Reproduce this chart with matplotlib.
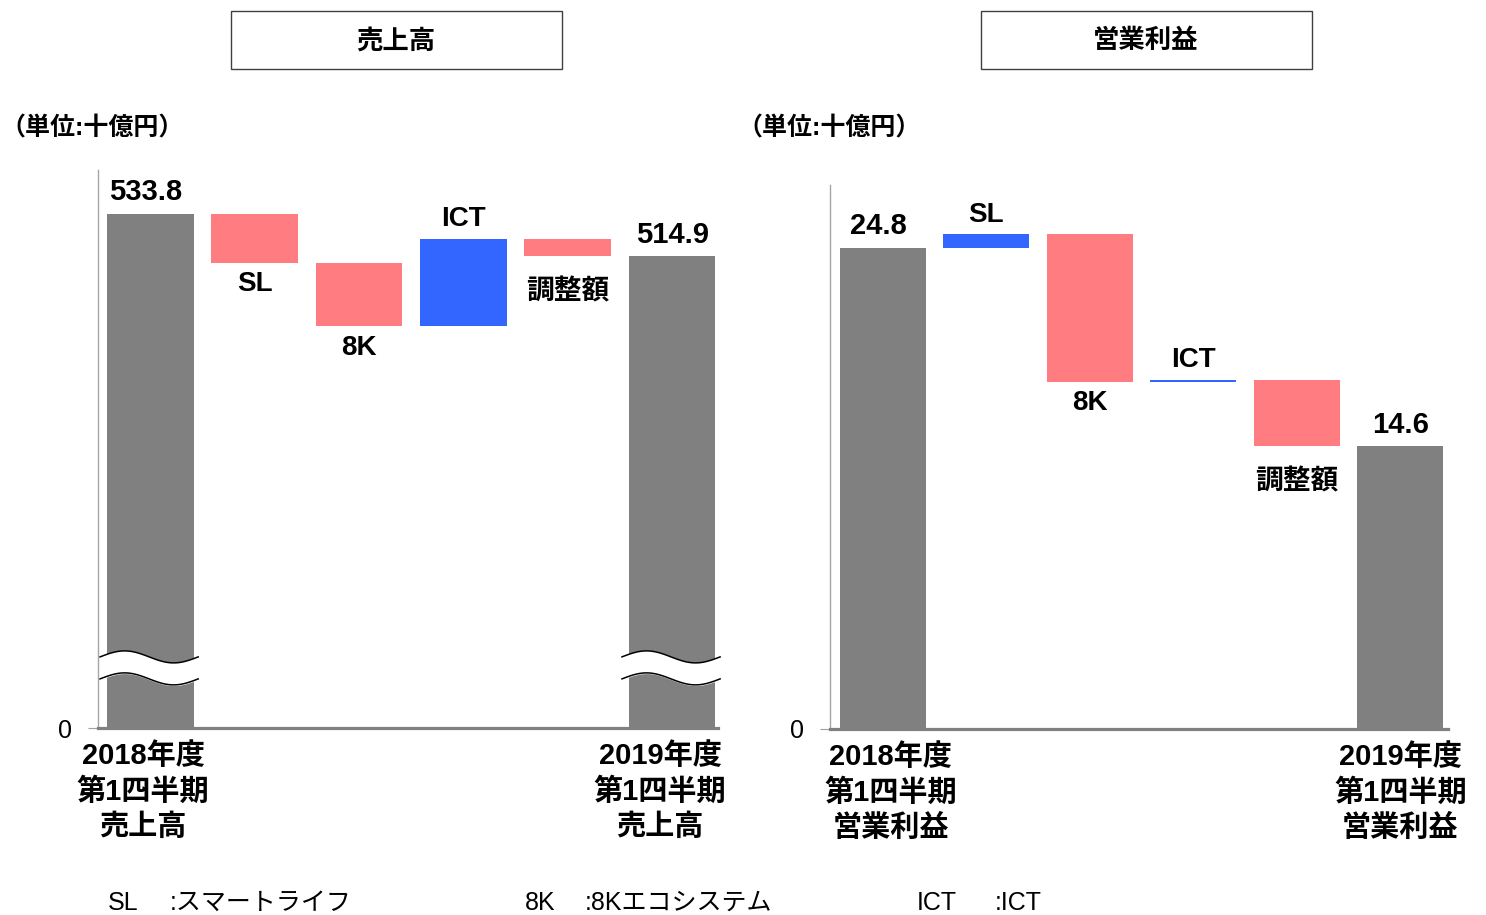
#Waterfall charts for sales and operating profit (Q1 FY2018 -> Q1 FY2019)
import numpy as np
import matplotlib.pyplot as plt
from matplotlib.patches import Rectangle
from matplotlib.transforms import ScaledTranslation

plt.rcParams['font.family'] = ['Liberation Sans', 'Noto Sans CJK JP']

#data (billion yen)
step_names = ['SL', '8K', 'ICT', '調整額']
sales_start = 533.8
sales_end = 514.9
sales_delta = [-22.1, -28.4, 39.2, -7.6]
profit_start = 24.8
profit_end = 14.6
profit_delta = [0.7, -7.6, 0.1, -3.4]

sales_cats = ['2018年度\n第1四半期\n売上高', '2019年度\n第1四半期\n売上高']
profit_cats = ['2018年度\n第1四半期\n営業利益', '2019年度\n第1四半期\n営業利益']
titles = ['売上高', '営業利益']
legend_keys = ['SL', '8K', 'ICT']
legend_vals = [':スマートライフ', ':8Kエコシステム', ':ICT']

grey = '#808080'
pink = '#FF7C80'
blue = '#3366FF'

W, H = 1486, 915
fig = plt.figure(figsize=(W / 100, H / 100), dpi=100)


def px_axes(x0, x1, ytop, ybot):
    return fig.add_axes([x0 / W, 1 - ybot / H, (x1 - x0) / W, (ybot - ytop) / H])


def waterfall(ax, start, end, delta, base, cats, label_fmt, shifts):
    width = 0.83
    # first and last bars
    ax.bar([0, 5], [start - base, end - base], bottom=base, width=width, color=grey, zorder=3)
    level = start
    for i, d in enumerate(delta):
        col = blue if d > 0 else pink
        ax.bar(i + 1, d, bottom=level, width=width, color=col, zorder=3)
        top = max(level, level + d)
        bot = min(level, level + d)
        name = step_names[i]
        if d > 0:
            ax.annotate(name, (i + 1, top), xytext=(0, 5), textcoords='offset points',
                        ha='center', va='bottom', fontsize=20, fontweight='bold')
        else:
            # the japanese label sits a bit lower in the original
            dy = -6 if name.isascii() else -17
            ax.annotate(name, (i + 1, bot), xytext=(0, dy), textcoords='offset points',
                        ha='center', va='top', fontsize=20, fontweight='bold')
        level = level + d
    ax.annotate(label_fmt % start, (0, start), xytext=(-3, 6), textcoords='offset points',
                ha='center', va='bottom', fontsize=21, fontweight='bold')
    ax.annotate(label_fmt % end, (5, end), xytext=(0, 5), textcoords='offset points',
                ha='center', va='bottom', fontsize=21, fontweight='bold')

    ax.set_xticks([0, 5])
    ax.set_xticklabels(cats, fontsize=21, fontweight='bold', linespacing=1.32)
    ax.tick_params(axis='x', length=0, pad=10)
    for lab, s in zip(ax.get_xticklabels(), shifts):
        lab.set_transform(lab.get_transform() + ScaledTranslation(s / 100, 0, fig.dpi_scale_trans))
    ax.set_yticks([base])
    ax.set_yticklabels(['0'], fontsize=18)
    ax.tick_params(axis='y', length=7, color='#a0a0a0', pad=12)
    for s in ['top', 'right']:
        ax.spines[s].set_visible(False)
    ax.spines['left'].set_color('#a6a6a6')
    ax.spines['left'].set_linewidth(1)
    ax.spines['bottom'].set_color(grey)
    ax.spines['bottom'].set_linewidth(2.3)


def break_mark(ax, xc, lo, hi, amp):
    x = np.linspace(xc - 0.48, xc + 0.46, 100)
    t = (x - x[0]) / (x[-1] - x[0])
    y1 = hi + amp * np.sin(2 * np.pi * t)
    y2 = lo + amp * np.sin(2 * np.pi * t)
    ax.fill_between(x, y2, y1, color='white', zorder=5, clip_on=False)
    ax.plot(x, y1, color='black', lw=1.1, zorder=6, clip_on=False)
    ax.plot(x, y2, color='black', lw=1.1, zorder=6, clip_on=False)


#left: sales (broken axis)
ax1 = px_axes(98, 718, 170, 728)
sales_base = 302.5
waterfall(ax1, sales_start, sales_end, sales_delta, sales_base, sales_cats, '%.1f', [-7, -12])
ax1.set_xlim(-0.5, 5.44)
ax1.set_ylim(sales_base, 553.6)
break_mark(ax1, 0, 324.6, 334.5, 2.7)
break_mark(ax1, 5, 324.6, 334.5, 2.7)

#right: operating profit
ax2 = px_axes(830, 1448, 185, 729)
waterfall(ax2, profit_start, profit_end, profit_delta, 0, profit_cats, '%.1f', [8, 0])
ax2.set_xlim(-0.51, 5.46)
ax2.set_ylim(0, 28.05)

#title boxes
for cx, t in zip([396, 1146], titles):
    fig.patches.append(Rectangle(((cx - 165) / W, 1 - 69 / H), 331 / W, 58 / H,
                                 transform=fig.transFigure, fill=False, edgecolor='#404040', lw=1))
    fig.text(cx / W, 1 - 41 / H, t, ha='center', va='center', fontsize=19, fontweight='bold')

#unit labels
for x in [0, 737]:
    fig.text(x / W, 1 - 128 / H, '（単位:十億円）', ha='left', va='center', fontsize=18, fontweight='bold')

#footnote
for kx, vx, k, v in zip([108, 525, 917], [170, 585, 995], legend_keys, legend_vals):
    fig.text(kx / W, 1 - 903 / H, k, ha='left', va='center', fontsize=18)
    fig.text(vx / W, 1 - 903 / H, v, ha='left', va='center', fontsize=18)

fig.savefig('out.png', dpi=100)
